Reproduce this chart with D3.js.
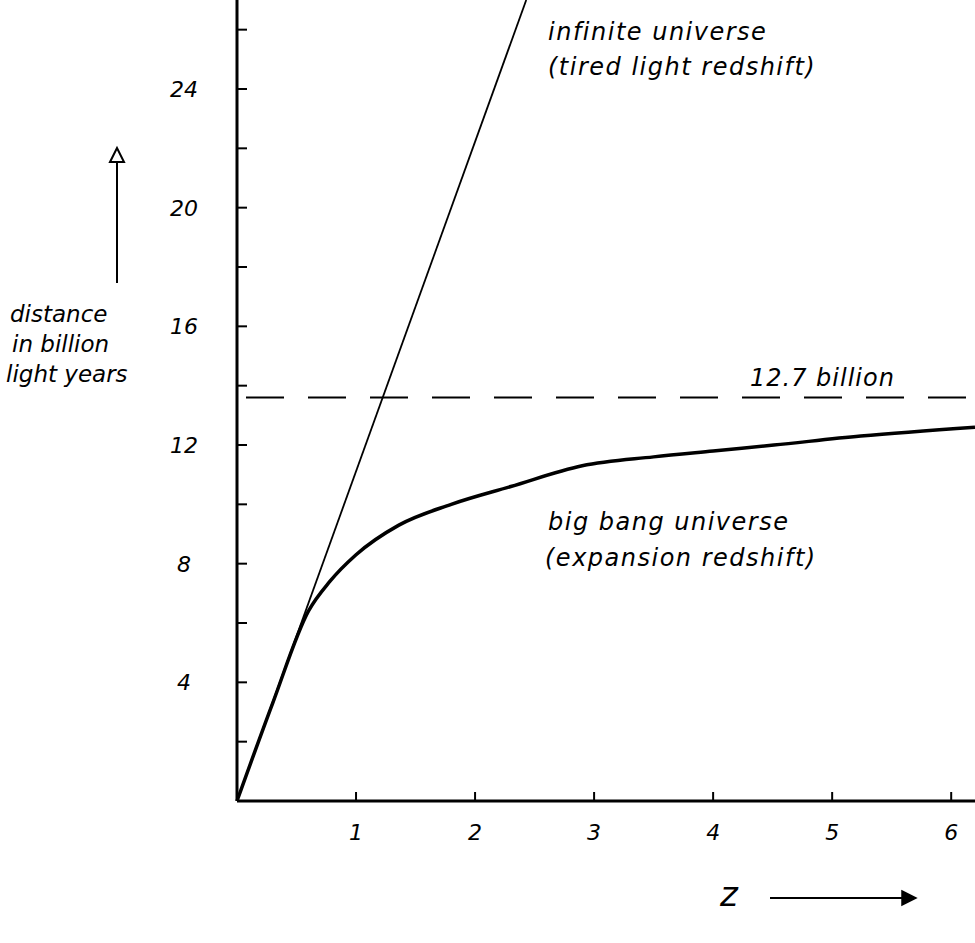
<!DOCTYPE html>
<html>
<head>
<meta charset="utf-8">
<script src="https://cdn.jsdelivr.net/npm/d3@7"></script>
<style>
  html, body { margin: 0; padding: 0; background: #fff; }
  svg { display: block; }
  text { font-family: "DejaVu Sans", sans-serif; font-style: italic; fill: #000; }
</style>
</head>
<body>
<script>
// ---- data ----
const xTicks = [1, 2, 3, 4, 5, 6];
const xTickLabels = ["1", "2", "3", "4", "5", "6"];
const yMinorTicks = [2, 4, 6, 8, 10, 12, 14, 16, 18, 20, 22, 24, 26];
const yLabelTicks = [4, 8, 12, 16, 20, 24];
const yTickLabels = ["4", "8", "12", "16", "20", "24"];
// tired light (infinite universe): straight line
const tiredZ = [0, 2.43];
const tiredD = [0, 27];
// big bang (expansion redshift) curve
const bangZ = [0, 0.3, 0.6, 0.78, 1.0, 1.36, 1.8, 2.3, 2.9, 3.5, 4.0, 4.51, 5.24, 6.2];
const bangD = [0, 3.3, 6.4, 7.4, 8.3, 9.3, 10.0, 10.6, 11.3, 11.6, 11.8, 12.0, 12.3, 12.6];
// horizontal reference (age limit)
const limitD = 13.6;
const limitLabel = "12.7 billion";

const W = 975, H = 943;
const svg = d3.select("body").append("svg").attr("width", W).attr("height", H);

const x = d3.scaleLinear().domain([0, 6.2]).range([237, 975]);
const y = d3.scaleLinear().domain([0, 27]).range([801, 0]);

// axes lines
svg.append("line").attr("x1", x(0)).attr("x2", x(0)).attr("y1", y(0)).attr("y2", 0)
  .attr("stroke", "#000").attr("stroke-width", 3);
svg.append("line").attr("x1", x(0)).attr("x2", W).attr("y1", y(0)).attr("y2", y(0))
  .attr("stroke", "#000").attr("stroke-width", 3);

// y ticks (to the right)
svg.selectAll(".yt").data(yMinorTicks).enter().append("line")
  .attr("x1", x(0)).attr("x2", x(0) + 10)
  .attr("y1", d => y(d)).attr("y2", d => y(d))
  .attr("stroke", "#000").attr("stroke-width", 2);
svg.selectAll(".yl").data(yLabelTicks).enter().append("text")
  .attr("x", 184).attr("y", d => y(d) + 8)
  .attr("text-anchor", "middle").attr("font-size", 22)
  .text((d, i) => yTickLabels[i]);

// x ticks (upwards)
svg.selectAll(".xt").data(xTicks).enter().append("line")
  .attr("x1", d => x(d)).attr("x2", d => x(d))
  .attr("y1", y(0)).attr("y2", y(0) - 9)
  .attr("stroke", "#000").attr("stroke-width", 2);
svg.selectAll(".xl").data(xTicks).enter().append("text")
  .attr("x", d => x(d)).attr("y", 840)
  .attr("text-anchor", "middle").attr("font-size", 22)
  .text((d, i) => xTickLabels[i]);

// dashed limit line
svg.append("line").attr("x1", 246).attr("x2", W).attr("y1", y(limitD)).attr("y2", y(limitD))
  .attr("stroke", "#000").attr("stroke-width", 2).attr("stroke-dasharray", "38,24");
svg.append("text").attr("x", 750).attr("y", y(limitD) - 12).attr("font-size", 24)
  .attr("letter-spacing", 1).text(limitLabel);

// lines
const line = d3.line().x(d => x(d[0])).y(d => y(d[1]));
svg.append("path").datum(tiredZ.map((z, i) => [z, tiredD[i]]))
  .attr("d", line).attr("fill", "none").attr("stroke", "#000").attr("stroke-width", 1.8);
svg.append("path").datum(bangZ.map((z, i) => [z, bangD[i]]))
  .attr("d", line.curve(d3.curveMonotoneX)).attr("fill", "none")
  .attr("stroke", "#000").attr("stroke-width", 3.5);

// annotations
const ann = [
  ["infinite universe", 548, 40],
  ["(tired light redshift)", 548, 75],
  ["big bang universe", 548, 530],
  ["(expansion redshift)", 545, 566]
];
svg.selectAll(".ann").data(ann).enter().append("text")
  .attr("x", d => d[1]).attr("y", d => d[2]).attr("font-size", 24).attr("letter-spacing", 1.5)
  .text(d => d[0]);

// y axis title
const ylab = [["distance", 10, 322], ["in billion", 12, 352], ["light years", 6, 382]];
svg.selectAll(".ylab").data(ylab).enter().append("text")
  .attr("x", d => d[1]).attr("y", d => d[2]).attr("font-size", 23)
  .text(d => d[0]);

// up arrow
svg.append("line").attr("x1", 117).attr("x2", 117).attr("y1", 283).attr("y2", 158)
  .attr("stroke", "#000").attr("stroke-width", 2);
svg.append("path").attr("d", "M110,162 L117,148 L124,162 Z")
  .attr("fill", "#fff").attr("stroke", "#000").attr("stroke-width", 2);

// z label and right arrow
svg.append("text").attr("x", 720).attr("y", 906).attr("font-size", 34).text("z");
svg.append("line").attr("x1", 770).attr("x2", 905).attr("y1", 898).attr("y2", 898)
  .attr("stroke", "#000").attr("stroke-width", 2);
svg.append("path").attr("d", "M902,891 L916,898 L902,905 Z")
  .attr("fill", "#000").attr("stroke", "#000").attr("stroke-width", 1.5);
</script>
</body>
</html>
